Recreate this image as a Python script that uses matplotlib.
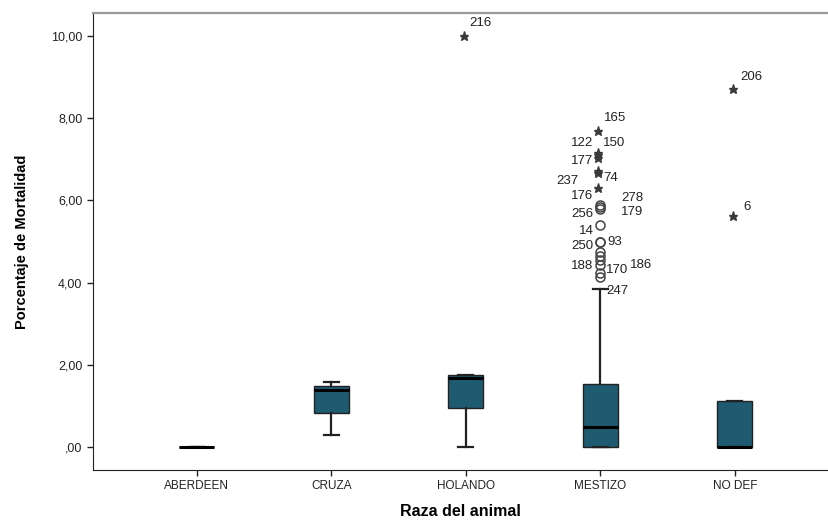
import matplotlib
matplotlib.use("Agg")
import matplotlib.pyplot as plt

plt.rcParams['font.family'] = ['Liberation Sans', 'DejaVu Sans']

# categories and box statistics
razas = ['ABERDEEN', 'CRUZA', 'HOLANDO', 'MESTIZO', 'NO DEF']
whis_lo = [0.0, 0.29, 0.0, 0.0, 0.0]
q1 = [0.0, 0.83, 0.94, 0.0, 0.0]
medianas = [0.0, 1.39, 1.69, 0.49, 0.0]
q3 = [0.0, 1.48, 1.74, 1.53, 1.13]
whis_hi = [0.0, 1.59, 1.76, 3.84, 1.13]

# outliers: group index, value, label, kind ('*' extreme, 'o' outlier)
out_grupo = [2, 3, 3, 3, 3, 3, 3, 3, 3, 3, 3, 3, 3, 3, 3, 3, 3, 3, 3, 3, 4, 4]
out_valor = [10.0, 7.69, 7.15, 7.10, 7.02, 6.72, 6.66, 6.30, 5.90, 5.83, 5.78,
             5.40, 5.00, 4.98, 4.75, 4.65, 4.55, 4.43, 4.23, 4.14, 8.70, 5.62]
out_label = ['216', '165', '122', '150', '177', '74', '237', '176', '278', '256', '179',
             '14', '93', '250', '', '', '186', '188', '170', '247', '206', '6']
out_tipo = ['*', '*', '*', '*', '*', '*', '*', '*', 'o', 'o', 'o',
            'o', 'o', 'o', 'o', 'o', 'o', 'o', 'o', 'o', '*', '*']
# label offsets in pixels (dx, dy)
out_off = [(15, 13), (15, 13), (-18, 10), (14, 12), (-18, -3), (10, -7), (-33, -8),
           (-18, -8), (32, 7), (-18, -7), (32, -3), (-14, -6), (14, 0), (-18, -4),
           (0, 0), (0, 0), (41, -5), (-18, -1), (17, 3), (17, -14), (17, 12), (12, 9)]

yticks = [0, 2, 4, 6, 8, 10]
ytick_labels = [',00', '2,00', '4,00', '6,00', '8,00', '10,00']

fig = plt.figure(figsize=(8.29, 5.21), dpi=100)
ax = fig.add_axes([0.1118, 0.0979, 0.8882, 0.8771])

stats = []
for i in range(len(razas)):
    stats.append({'whislo': whis_lo[i], 'q1': q1[i], 'med': medianas[i],
                  'q3': q3[i], 'whishi': whis_hi[i], 'fliers': []})

pos = list(range(1, len(razas) + 1))
ax.bxp(stats, positions=pos, widths=0.26, capwidths=0.11, patch_artist=True,
       showfliers=False,
       boxprops=dict(facecolor='#1f5b70', edgecolor='#222222', linewidth=1.0),
       medianprops=dict(color='black', linewidth=2.2),
       whiskerprops=dict(color='#222222', linewidth=1.6),
       capprops=dict(color='#222222', linewidth=1.6))

for g, v, lab, t, (dx, dy) in zip(out_grupo, out_valor, out_label, out_tipo, out_off):
    x = pos[g]
    if t == '*':
        ax.plot(x - 0.015, v, marker='*', ms=6.5, color='#3a3a3a', mec='#3a3a3a', ls='none')
    else:
        ax.plot(x, v, marker='o', ms=6.5, mfc='none', mec='#444444', mew=1.1, ls='none')
    if lab:
        ax.annotate(lab, (x, v), xytext=(dx * 0.72, dy * 0.72), textcoords='offset points',
                    ha='center', va='center', fontsize=9.5, color='#222222')

ax.set_xlim(0.225, 5.70)
ax.set_ylim(-0.56, 10.56)
ax.set_xticks(pos)
ax.set_xticklabels(razas, fontsize=8.5, color='#222222')
ax.set_yticks(yticks)
ax.set_yticklabels(ytick_labels, fontsize=9, color='#222222')
ax.tick_params(axis='both', length=4, width=1, color='#222222')

ax.spines['right'].set_visible(False)
ax.spines['top'].set_color('#999999')
ax.spines['top'].set_linewidth(1.6)
ax.spines['left'].set_color('#222222')
ax.spines['bottom'].set_color('#222222')

ax.set_ylabel('Porcentaje de Mortalidad', fontsize=10.5, fontweight='bold',
              family=['Liberation Sans Narrow', 'Liberation Sans'], labelpad=16)
ax.set_xlabel('Raza del animal', fontsize=11.5, fontweight='bold', labelpad=8)

fig.savefig('out.png', dpi=100)
